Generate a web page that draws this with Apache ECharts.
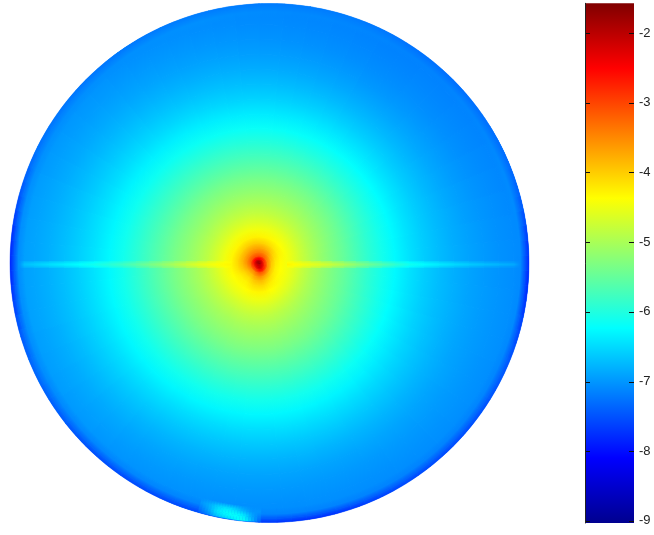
<!DOCTYPE html>
<html><head><meta charset="utf-8">
<style>html,body{margin:0;padding:0;background:#fff}#c{width:654px;height:535px}</style>
<script src="https://cdn.jsdelivr.net/npm/echarts@6/dist/echarts.min.js"></script>
</head><body><div id="c"></div>
<script>
// Ring edges around the hot spot
const ringEdges = [0,3,6,9,13,17,22,28,35,43,52,62,73,85,97,110,123,136,150,165,180,195,210,225,240,255,270,290];
// Sector centres, E then counter-clockwise, 22.5 degrees wide
const sectorNames = ['E','ENE','NE','NNE','N','NNW','NW','WNW','W','WSW','SW','SSW','S','SSE','SE','ESE'];
const fieldRows = [
[-1.9,-1.8,-1.8,-1.75,-1.75,-1.7,-1.7,-1.75,-1.8,-1.9,-1.9,-1.9,-2.0,-2.0,-2.0,-2.0],
[-2.6,-2.7,-2.5,-2.2,-2.1,-2.0,-2.0,-2.2,-2.5,-2.6,-2.7,-2.6,-2.4,-2.2,-2.3,-2.5],
[-3.3,-3.3,-3.1,-3.0,-2.9,-2.9,-2.9,-3.0,-3.1,-3.3,-3.4,-3.3,-3.0,-2.9,-3.0,-3.2],
[-3.85,-3.8,-3.55,-3.4,-3.35,-3.35,-3.35,-3.4,-3.5,-3.7,-3.85,-3.75,-3.4,-3.5,-3.7,-3.85],
[-4.2,-4.1,-3.85,-3.65,-3.6,-3.6,-3.65,-3.7,-3.75,-3.95,-4.1,-4.0,-3.7,-3.85,-4.05,-4.2],
[-4.33,-4.25,-4.1,-3.95,-3.85,-3.85,-3.9,-3.95,-3.95,-4.15,-4.25,-4.2,-3.9,-4.1,-4.25,-4.33],
[-4.42,-4.38,-4.3,-4.25,-4.2,-4.15,-4.2,-4.25,-4.2,-4.32,-4.38,-4.32,-4.15,-4.28,-4.38,-4.42],
[-4.5,-4.48,-4.42,-4.4,-4.38,-4.36,-4.38,-4.4,-4.38,-4.42,-4.44,-4.42,-4.38,-4.42,-4.48,-4.52],
[-4.7,-4.66,-4.62,-4.58,-4.56,-4.54,-4.56,-4.58,-4.56,-4.6,-4.62,-4.6,-4.56,-4.6,-4.66,-4.7],
[-4.9,-4.85,-4.8,-4.76,-4.74,-4.73,-4.76,-4.78,-4.76,-4.78,-4.8,-4.78,-4.74,-4.8,-4.86,-4.9],
[-5.08,-5.03,-4.98,-4.94,-4.92,-4.91,-4.94,-4.96,-4.94,-4.96,-4.98,-4.95,-4.91,-4.96,-5.02,-5.07],
[-5.26,-5.2,-5.14,-5.1,-5.09,-5.08,-5.11,-5.13,-5.1,-5.12,-5.13,-5.1,-5.06,-5.11,-5.18,-5.23],
[-5.44,-5.38,-5.32,-5.28,-5.27,-5.26,-5.28,-5.3,-5.26,-5.28,-5.29,-5.25,-5.22,-5.26,-5.32,-5.4],
[-5.62,-5.56,-5.5,-5.47,-5.46,-5.45,-5.47,-5.47,-5.43,-5.45,-5.46,-5.42,-5.4,-5.43,-5.49,-5.57],
[-5.85,-5.77,-5.72,-5.68,-5.67,-5.66,-5.67,-5.67,-5.62,-5.64,-5.65,-5.62,-5.6,-5.62,-5.68,-5.77],
[-6.05,-5.98,-5.93,-5.9,-5.88,-5.87,-5.87,-5.86,-5.82,-5.83,-5.84,-5.82,-5.8,-5.82,-5.87,-5.97],
[-6.2,-6.16,-6.13,-6.1,-6.08,-6.07,-6.06,-6.05,-6.02,-6.02,-6.03,-6.02,-6.0,-6.01,-6.06,-6.16],
[-6.38,-6.34,-6.32,-6.29,-6.27,-6.26,-6.24,-6.22,-6.18,-6.19,-6.2,-6.2,-6.18,-6.19,-6.24,-6.33],
[-6.54,-6.52,-6.52,-6.49,-6.47,-6.45,-6.43,-6.39,-6.35,-6.36,-6.39,-6.4,-6.38,-6.38,-6.42,-6.5],
[-6.68,-6.67,-6.69,-6.66,-6.64,-6.62,-6.59,-6.54,-6.5,-6.52,-6.56,-6.58,-6.56,-6.56,-6.58,-6.64],
[-6.78,-6.79,-6.83,-6.81,-6.77,-6.75,-6.72,-6.67,-6.63,-6.65,-6.7,-6.73,-6.71,-6.71,-6.72,-6.75],
[-6.87,-6.9,-6.95,-6.94,-6.89,-6.87,-6.84,-6.79,-6.75,-6.77,-6.83,-6.86,-6.85,-6.85,-6.85,-6.85],
[-6.94,-6.98,-7.04,-7.03,-6.98,-6.95,-6.93,-6.88,-6.84,-6.86,-6.92,-6.95,-6.95,-6.95,-6.94,-6.92],
[-6.99,-7.05,-7.11,-7.09,-7.05,-7.02,-7.0,-6.95,-6.91,-6.93,-6.99,-7.02,-7.02,-7.02,-7.01,-6.98],
[-7.04,-7.09,-7.14,-7.13,-7.09,-7.07,-7.05,-7.01,-6.97,-6.99,-7.05,-7.07,-7.07,-7.07,-7.06,-7.03],
[-7.08,-7.13,-7.18,-7.16,-7.12,-7.1,-7.08,-7.05,-7.02,-7.03,-7.08,-7.1,-7.11,-7.11,-7.1,-7.07],
[-7.12,-7.17,-7.21,-7.19,-7.15,-7.13,-7.11,-7.08,-7.05,-7.07,-7.12,-7.13,-7.14,-7.15,-7.13,-7.11]
];
// Thin horizontal streak, one value per ring from ring 7 outward
const streakEastCore = [-4.3,-4.42,-4.5,-4.6,-4.72,-4.9,-5.1,-5.35,-5.55,-5.75,-6.05,-6.2,-6.33,-6.45,-6.57,-6.67,-6.75,-6.83,-6.93,-7.0];
const streakEastWide = [-4.38,-4.52,-4.62,-4.74,-4.88,-5.08,-5.28,-5.5,-5.7,-5.92,-6.14,-6.3,-6.45,-6.58,-6.7,-6.8,-6.88,-6.95,-7.02,-7.08];
const streakWestCore = [-4.3,-4.38,-4.46,-4.56,-4.7,-4.9,-5.1,-5.3,-5.5,-5.7,-5.9,-6.05,-6.18,-6.3,-6.42,-6.55,-6.68,-6.8,-6.95,-7.0];
const streakWestWide = [-4.34,-4.44,-4.55,-4.68,-4.82,-5.02,-5.22,-5.42,-5.62,-5.82,-6.0,-6.14,-6.28,-6.42,-6.54,-6.65,-6.76,-6.87,-6.98,-7.05];
// Rim of the disc, 10-degree bins counter-clockwise from E, innermost row first
const rimEdges = [245,251,255.5,259.5];
const rimRows = [
[-7.05,-7.05,-7.07,-7.09,-7.11,-7.13,-7.12,-7.11,-7.1,-7.08,-7.05,-7.03,-7.03,-7.05,-7.05,-7.03,-7.02,-7.02,-7.02,-7.02,-7.02,-7.05,-7.07,-7.07,-7.07,-7.08,-7.08,-7.08,-7.11,-7.11,-7.11,-7.11,-7.11,-7.09,-7.07,-7.05],
[-7.15,-7.1,-7.1,-7.12,-7.14,-7.16,-7.14,-7.12,-7.11,-7.09,-7.07,-7.06,-7.06,-7.07,-7.07,-7.07,-7.07,-7.09,-7.12,-7.09,-7.08,-7.12,-7.16,-7.18,-7.18,-7.18,-7.18,-7.18,-7.18,-7.18,-7.18,-7.18,-7.18,-7.16,-7.14,-7.12],
[-7.95,-7.5,-7.35,-7.3,-7.3,-7.3,-7.25,-7.2,-7.2,-7.2,-7.2,-7.2,-7.22,-7.25,-7.25,-7.25,-7.35,-7.7,-8.0,-7.65,-7.35,-7.4,-7.5,-7.6,-7.6,-7.6,-7.6,-7.7,-7.85,-7.7,-7.6,-7.6,-7.6,-7.5,-7.5,-7.8]
];
// Bright glint at the lower rim, 2-degree bins from 254 degrees, innermost row first
const glintEdges = [244,249,254,259];
const glintRows = [
[-7.05,-7.0,-6.9,-6.9,-7.0,-7.05,-7.05],
[-6.9,-6.4,-5.9,-5.9,-6.2,-6.9,-7.05],
[-7.5,-6.9,-6.6,-6.5,-6.2,-6.0,-7.4]
];
const streakPx = [3.2,1.1];
const tickLabels = [-9,-8,-7,-6,-5,-4,-3,-2];
const colorStops = ['#00008f','#0000ff','#0080ff','#00ffff','#80ff80','#ffff00','#ff8000','#ff0000','#800000'];
const barMin=-9.03, barMax=-1.574;

function jet(v){ return echarts.color.lerp(Math.max(0,Math.min(1,(v-barMin)/(barMax-barMin))),colorStops); }
function cornerValue(rows,i,j){
  const n=rows[0].length, a=rows[Math.max(i-1,0)], b=rows[Math.min(i,rows.length-1)];
  const l=(j-1+n)%n, c=j%n;
  return (a[l]+a[c]+b[l]+b[c])/4;
}
const fieldCells=[];
fieldRows.forEach((row,i)=>row.forEach((v,j)=>{
  fieldCells.push([ringEdges[i],ringEdges[i+1],22.5*j-11.25,22.5*j+11.25,v,i,j,0]);
}));
const rimCells=[];
rimRows.forEach((row,i)=>row.forEach((v,j)=>{
  rimCells.push([rimEdges[i],rimEdges[i+1],10*j-5,10*j+5,v,i,j,1]);
}));
glintRows.forEach((row,i)=>row.forEach((v,j)=>{
  rimCells.push([glintEdges[i],glintEdges[i+1],254+2*j,256+2*j,v,i,j,3]);
}));
const streakCells=[];
function addStreak(values,mid,px){
  values.forEach((v,k)=>{
    const i=k+7, r=(ringEdges[i]+ringEdges[i+1])/2, h=Math.asin(px/r)*180/Math.PI;
    const inner=k>0?(values[k-1]+v)/2:v, outer=k<values.length-1?(values[k+1]+v)/2:v;
    streakCells.push([ringEdges[i],ringEdges[i+1],mid-h,mid+h,v,inner,outer,2]);
  });
}
addStreak(streakEastWide,0,streakPx[0]);
addStreak(streakWestWide,180,streakPx[0]);
addStreak(streakEastCore,0,streakPx[1]);
addStreak(streakWestCore,180,streakPx[1]);

const discClip={type:'circle',shape:{cx:269.5,cy:263,r:259.5}};
const tables={0:fieldRows,1:rimRows,3:glintRows};
function wedge(cs,r0,r1,a0,a1,c0,c1,clip,lw){
  const R=Math.max(r1,1);
  const g={type:'radial',x:cs.cx,y:cs.cy,r:R,global:true,colorStops:[{offset:r0/R,color:c0},{offset:1,color:c1}]};
  const el={type:'sector',shape:{cx:cs.cx,cy:cs.cy,r0:r0,r:r1,startAngle:-a1,endAngle:-a0},
    style:{fill:g,stroke:lw?g:null,lineWidth:lw}};
  if(clip) el.clipPath=discClip;
  return el;
}
function renderCell(params,api){
  const cs=params.coordSys;
  const a=api.coord([api.value(0),api.value(2)]), b=api.coord([api.value(1),api.value(3)]);
  const table=api.value(7);
  if(table===2) return wedge(cs,a[2],b[2],a[3],b[3],jet(api.value(5)),jet(api.value(6)),true,0);
  const rows=tables[table], i=api.value(5), j=api.value(6), M=table===0?4:3;
  const vi0=cornerValue(rows,i,j), vi1=cornerValue(rows,i,j+1), vo0=cornerValue(rows,i+1,j), vo1=cornerValue(rows,i+1,j+1);
  const kids=[];
  for(let k=0;k<M;k++){
    const t=(k+.5)/M;
    const th0=a[3]+(b[3]-a[3])*k/M, th1=a[3]+(b[3]-a[3])*(k+1)/M;
    let c0=jet(vi0+(vi1-vi0)*t);
    const c1=jet(vo0+(vo1-vo0)*t);
    // the innermost rim and glint rows fade in over the field
    if(table!==0&&i===0) c0=echarts.color.modifyAlpha(c1,0);
    kids.push(wedge(cs,a[2],b[2],th0,th1,c0,c1,table===0,table===0?1.2:0.4));
  }
  return {type:'group',children:kids};
}
function renderBar(params,api){
  const p0=api.coord([api.value(0),api.value(3)]), p1=api.coord([api.value(1),api.value(2)]);
  const n=colorStops.length-1;
  return {type:'rect',shape:{x:p0[0],y:p0[1],width:p1[0]-p0[0],height:p1[1]-p0[1]},
    style:{fill:{type:'linear',x:0,y:1,x2:0,y2:0,colorStops:colorStops.map((c,i)=>({offset:i/n,color:c}))}}};
}
function renderTick(params,api){
  const l=api.coord([0,api.value(0)]), r=api.coord([1,api.value(0)]), len=5;
  const st={stroke:'#111',lineWidth:1};
  const y=Math.round(l[1])+.5;
  return {type:'group',children:[
    {type:'line',shape:{x1:l[0],y1:y,x2:l[0]+len,y2:y},style:st},
    {type:'line',shape:{x1:r[0]-len,y1:y,x2:r[0],y2:y},style:st}
  ]};
}
const chart=echarts.init(document.getElementById('c'),null,{renderer:'canvas'});
chart.setOption({
  animation:false,
  backgroundColor:'#fff',
  polar:[
    {center:[259,264.5],radius:[0,290]},
    {center:[269.5,263],radius:[0,259.5]}
  ],
  radiusAxis:[
    {polarIndex:0,type:'value',min:0,max:290,show:false},
    {polarIndex:1,type:'value',min:0,max:259.5,show:false}
  ],
  angleAxis:[
    {polarIndex:0,type:'value',min:-11.25,max:348.75,startAngle:-11.25,clockwise:false,show:false},
    {polarIndex:1,type:'value',min:-5,max:355,startAngle:-5,clockwise:false,show:false}
  ],
  grid:{left:585,top:3.3,width:49,height:519.7,show:false},
  xAxis:{type:'value',min:0,max:1,show:false},
  yAxis:{type:'value',position:'right',min:barMin,max:barMax,splitLine:{show:false},z:10,
     axisLine:{show:true,lineStyle:{color:'#222',width:1}},
     axisTick:{show:false},
     axisLabel:{show:true,customValues:tickLabels,margin:5,color:'#222',fontSize:13,fontFamily:'Liberation Sans',
       formatter:v=>String(v)}},
  visualMap:{
    type:'continuous',show:false,min:barMin,max:barMax,dimension:4,seriesIndex:[0,1,2],
    inRange:{color:colorStops}
  },
  series:[
    {type:'custom',coordinateSystem:'polar',polarIndex:0,data:fieldCells,
     encode:{radius:[0,1],angle:[2,3]},renderItem:renderCell,silent:true},
    {type:'custom',coordinateSystem:'polar',polarIndex:0,data:streakCells,
     encode:{radius:[0,1],angle:[2,3]},renderItem:renderCell,silent:true},
    {type:'custom',coordinateSystem:'polar',polarIndex:1,data:rimCells,
     encode:{radius:[0,1],angle:[2,3]},renderItem:renderCell,silent:true},
    {type:'custom',coordinateSystem:'cartesian2d',data:[[0,1,barMin,barMax]],
     encode:{x:[0,1],y:[2,3]},renderItem:renderBar,silent:true,clip:false,z:3},
    {type:'custom',coordinateSystem:'cartesian2d',data:tickLabels.map(v=>[v]),
     encode:{y:0},renderItem:renderTick,silent:true,clip:false,z:4}
  ]
});
</script></body></html>
